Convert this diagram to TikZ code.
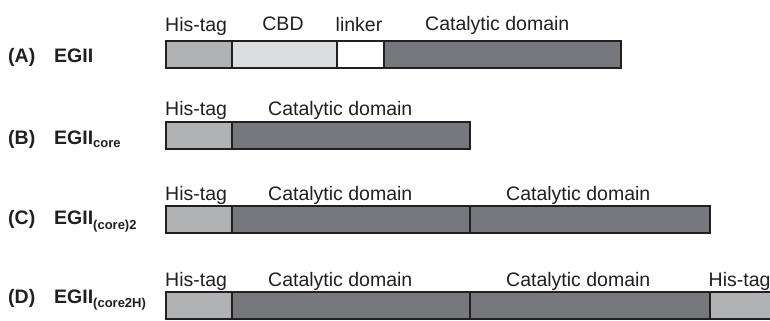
\documentclass[tikz,border=0pt]{standalone}
\usepackage{fontspec}
\setmainfont{Liberation Sans}
\definecolor{edge}{HTML}{231F20}
\definecolor{histag}{HTML}{B1B2B4}
\definecolor{cbd}{HTML}{DCDDDE}
\definecolor{catal}{HTML}{77787B}
\tikzset{
  seg/.style={draw=edge, line width=2bp, minimum height=27bp, inner sep=0pt,
              outer sep=0pt, anchor=west},
  his/.style={seg, fill=histag},
  cbdbox/.style={seg, fill=cbd},
  linkbox/.style={seg, fill=white},
  catbox/.style={seg, fill=catal},
  lab/.style={text=edge, inner sep=0pt, anchor=base west,
              font=\fontsize{19.5bp}{22bp}\selectfont},
  rowlab/.style={text=edge, inner sep=0pt, anchor=base west,
              font=\fontsize{19.5bp}{22bp}\selectfont\bfseries}
}
\newcommand{\subtxt}[2]{\raisebox{-#1}{\fontsize{13bp}{13bp}\selectfont\bfseries #2}}
\begin{document}
\begin{tikzpicture}[x=1bp,y=-1bp]
  \useasboundingbox (0,0) rectangle (770,320);
  \clip (0,0) rectangle (770,320);
  \fill[white] (0,0) rectangle (770,320);

  % (A) full-length enzyme
  \node[his,     minimum width=66bp]    (a1) at (166,54.5) {};
  \node[cbdbox,  minimum width=105bp]   (a2) at (a1.east) {};
  \node[linkbox, minimum width=46.5bp]  (a3) at (a2.east) {};
  \node[catbox,  minimum width=237.5bp] (a4) at (a3.east) {};
  \node[lab] (ta1) at (165,31) {His-tag};
  \node[lab, anchor=base] (ta2) at (283,30.5) {CBD};
  \node[lab, anchor=base] (ta3) at (359,31.5) {linker};
  \node[lab] (ta4) at (425,30.5) {Catalytic domain};
  \node[rowlab] (la) at (8,62) {(A)};
  \node[rowlab] (na) at (54,62) {EGII};

  % (B) catalytic core
  \node[his,    minimum width=66bp]  (b1) at (166,135.5) {};
  \node[catbox, minimum width=238bp] (b2) at (b1.east) {};
  \node[lab] (tb1) at (165,115.5) {His-tag};
  \node[lab] (tb2) at (268,115.5) {Catalytic domain};
  \node[rowlab] (lb) at (8,144) {(B)};
  \node[rowlab] (nb) at (54,144) {EGII\subtxt{3bp}{core}};

  % (C) tandem catalytic core
  \node[his,    minimum width=66bp]    (c1) at (166,219.5) {};
  \node[catbox, minimum width=238bp]   (c2) at (c1.east) {};
  \node[catbox, minimum width=239.5bp] (c3) at (c2.east) {};
  \node[lab] (tc1) at (165,200.5) {His-tag};
  \node[lab] (tc2) at (268,200.5) {Catalytic domain};
  \node[lab] (tc3) at (506,200.5) {Catalytic domain};
  \node[rowlab] (lc) at (8,224.7) {(C)};
  \node[rowlab] (nc) at (54,224.7) {EGII\subtxt{5bp}{(core)2}};

  % (D) tandem catalytic core with His-tags at both ends
  \node[his,    minimum width=66bp]    (d1) at (166,305) {};
  \node[catbox, minimum width=238bp]   (d2) at (d1.east) {};
  \node[catbox, minimum width=239.5bp] (d3) at (d2.east) {};
  \node[his,    minimum width=66bp]    (d4) at (d3.east) {};
  \node[lab] (td1) at (165,286.5) {His-tag};
  \node[lab] (td2) at (268,286.5) {Catalytic domain};
  \node[lab] (td3) at (506,286.5) {Catalytic domain};
  \node[lab] (td4) at (708.5,286.5) {His-tag};
  \node[rowlab] (ld) at (8,303.3) {(D)};
  \node[rowlab] (nd) at (54,303.3) {EGII\subtxt{4bp}{(core2H)}};
\end{tikzpicture}
\end{document}
